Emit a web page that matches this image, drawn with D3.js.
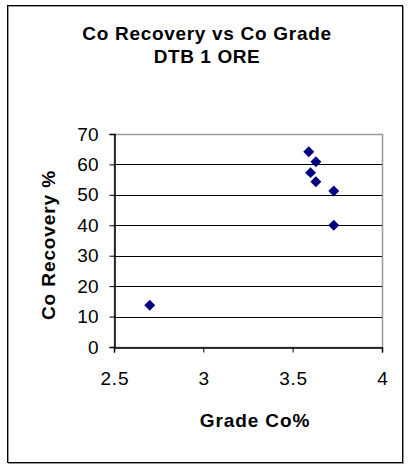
<!DOCTYPE html>
<html><head><meta charset="utf-8">
<script src="https://cdn.jsdelivr.net/npm/d3@7"></script>
<style>body{margin:0;background:#fff;}svg{display:block;font-family:"Liberation Sans",Arial,sans-serif;}</style>
</head><body><svg id="c" width="412" height="466"></svg>
<script>
const titleLines = ["Co Recovery vs Co Grade", "DTB 1 ORE"];
const xLabel = "Grade Co%";
const yLabel = "Co Recovery %";
const grade = [2.70, 3.59, 3.63, 3.60, 3.63, 3.73, 3.73];
const recovery = [13.7, 64.2, 60.9, 57.3, 54.3, 51.3, 40.0];
const xTicks = [2.5, 3, 3.5, 4];
const yTicks = [0, 10, 20, 30, 40, 50, 60, 70];

const svg = d3.select("#c");
// outer frame
svg.append("rect").attr("x",8.5).attr("y",6.5).attr("width",395).attr("height",457).attr("fill","none").attr("stroke","#999").attr("stroke-width",1);
svg.append("rect").attr("x",7.5).attr("y",5.5).attr("width",395).attr("height",457).attr("fill","none").attr("stroke","#000").attr("stroke-width",1);

const L=114, R=382, T=134, B=347;
const x = d3.scaleLinear().domain([2.5,4]).range([L,R]);
const y = d3.scaleLinear().domain([0,70]).range([B,T]);

// plot border (gray)
svg.append("rect").attr("x",L+0.5).attr("y",T+0.5).attr("width",R-L).attr("height",B-T).attr("fill","none").attr("stroke","#999").attr("stroke-width",1.5);

// grid lines
svg.append("g").selectAll("line").data(yTicks.filter(d=>d>0 && d<70)).join("line")
  .attr("x1",L).attr("x2",R).attr("y1",d=>Math.round(y(d))+0.5).attr("y2",d=>Math.round(y(d))+0.5)
  .attr("stroke","#000").attr("stroke-width",1);

const fmt = d=>String(d);
const ya = svg.append("g").attr("transform",`translate(${L+0.5},0)`)
  .call(d3.axisLeft(y).tickValues(yTicks).tickFormat(fmt).tickSize(5).tickPadding(11));
const xa = svg.append("g").attr("transform",`translate(0,${B+0.5})`)
  .call(d3.axisBottom(x).tickValues(xTicks).tickFormat(fmt).tickSize(5).tickPadding(19));
[ya,xa].forEach(a=>{
  a.select(".domain").attr("stroke","#000").attr("stroke-width",1.5);
  a.selectAll(".tick line").attr("stroke","#000");
  a.selectAll("text").attr("font-size",19).attr("fill","#000").attr("font-family","Liberation Sans, Arial, sans-serif");
});
xa.selectAll("text").attr("letter-spacing",0.8).attr("dx",0.4);

// points
svg.append("g").selectAll("path").data(grade.map((g,i)=>[g,recovery[i]])).join("path")
  .attr("d", d3.symbol(d3.symbolSquare, 60))
  .attr("transform", d=>`translate(${x(d[0])},${y(d[1])}) rotate(45)`)
  .attr("fill","#000080");

// titles
const bold = (sel)=>sel.attr("font-size",19).attr("font-weight","bold").attr("fill","#000");
bold(svg.append("text").attr("x",207).attr("y",40).attr("text-anchor","middle").attr("letter-spacing",0.7).text(titleLines[0]));
bold(svg.append("text").attr("x",207).attr("y",63).attr("text-anchor","middle").attr("letter-spacing",0.6).text(titleLines[1]));
bold(svg.append("text").attr("x",255).attr("y",427).attr("text-anchor","middle").attr("letter-spacing",0.9).text(xLabel));
bold(svg.append("text").attr("transform","translate(55,245) rotate(-90)").attr("text-anchor","middle").attr("letter-spacing",0.9).text(yLabel));
</script></body></html>
